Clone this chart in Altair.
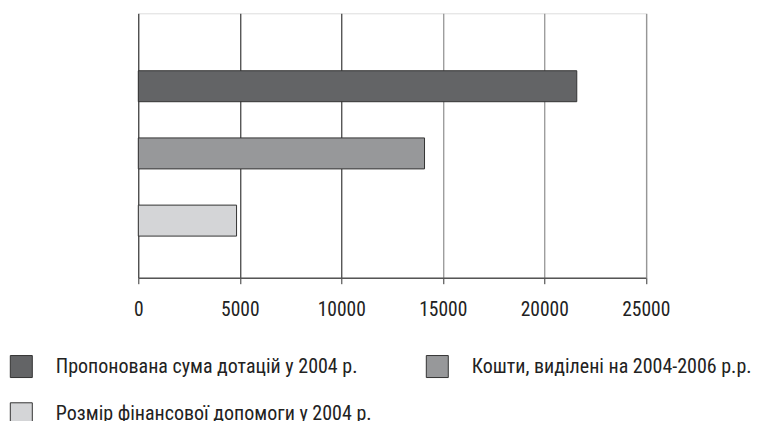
import altair as alt
import pandas as pd

categories = [
    "Пропонована сума дотацій у 2004 р.",
    "Кошти, виділені на 2004-2006 р.р.",
    "Розмір фінансової допомоги у 2004 р.",
]
values = [21600, 14100, 4840]
colors = ["#636466", "#97989a", "#d4d5d7"]
x_ticks = [0, 5000, 10000, 15000, 20000, 25000]

df = pd.DataFrame({"cat": categories, "val": values})

FONT = "Roboto Condensed, Liberation Sans Narrow, DejaVu Sans Condensed, sans-serif"

chart = alt.Chart(df).mark_bar(stroke="#333333", strokeWidth=1).encode(
    x=alt.X(
        "val:Q",
        scale=alt.Scale(domain=[0, 25000], nice=False),
        axis=alt.Axis(
            values=x_ticks,
            title=None,
            grid=True,
            gridColor={"condition": {"test": "datum.value <= 10000", "value": "#111111"}, "value": "#777777"},
            gridWidth=1,
            tickColor="#333333",
            tickSize=6,
            domainColor="#555555",
            domainWidth=1.5,
            labelFont=FONT,
            labelFontSize=19.5,
            labelColor="#222222",
            labelPadding=17,
            labelFlush=False,
            format="d",
        ),
    ),
    y=alt.Y(
        "cat:N",
        sort=categories,
        scale=alt.Scale(paddingInner=0.539, paddingOuter=0.737, align=0.58),
        axis=None,
    ),
    color=alt.Color(
        "cat:N",
        sort=categories,
        scale=alt.Scale(domain=categories, range=colors),
        legend=alt.Legend(
            title=None,
            orient="none",
            legendX=-128.5,
            legendY=341.5,
            columns=2,
            direction="horizontal",
            columnPadding=52,
            rowPadding=20.5,
            symbolType="square",
            symbolSize=484,
            symbolStrokeColor="#333333",
            symbolStrokeWidth=1,
            labelFont=FONT,
            labelFontSize=20,
            labelColor="#222222",
            labelOffset=23,
            labelLimit=600,
            padding=0,
        ),
    ),
).properties(
    width=507.5,
    height=264.4,
    autosize=alt.AutoSizeParams(type="none"),
    padding={"left": 130.3, "top": 5.3, "right": 109, "bottom": 150},
).configure_view(
    stroke="#444444", strokeWidth=1.2
).configure(background="white")

chart.save("out.html", embed_options={"renderer": "svg", "actions": False})
